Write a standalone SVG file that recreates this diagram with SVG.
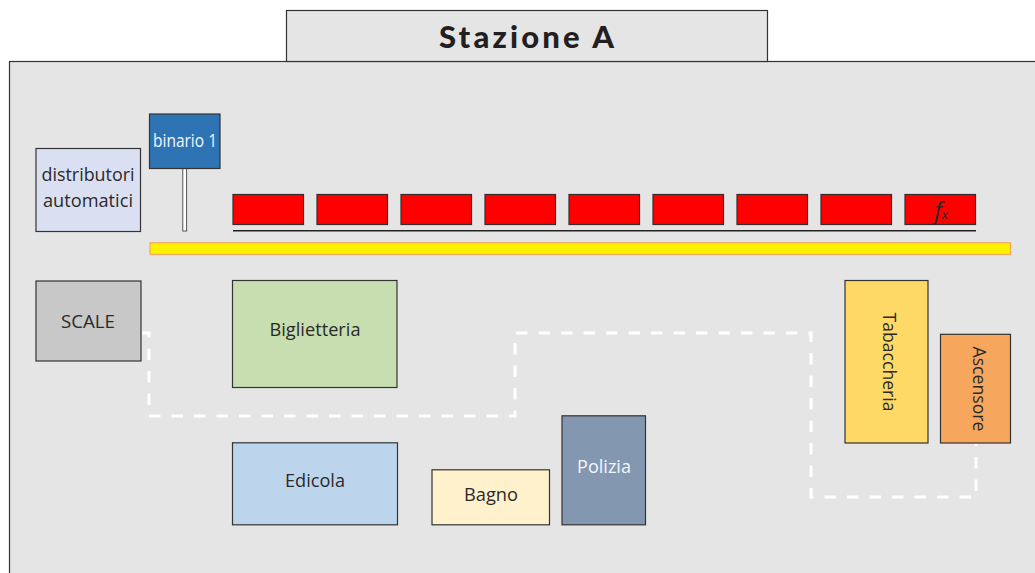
<svg xmlns="http://www.w3.org/2000/svg" width="1035" height="573" viewBox="0 0 1035 573">
<style>
text{font-family:"Open Sans","Noto Sans","Liberation Sans",sans-serif;font-size:17.5px;fill:#2b2a29;text-anchor:middle}
.b{stroke:#333;stroke-width:1.2}
.r{fill:#ff0000;stroke:#3a2a2a;stroke-width:1.2}
</style>
<rect width="1035" height="573" fill="#fff"/>
<g id="station">
<rect x="9.500" y="61.500" width="1040" height="530" fill="#e5e5e5" class="b"/>
</g>
<g id="header">
<rect x="286.500" y="10.500" width="481" height="51" fill="#e5e5e5" class="b"/>
<text x="526.500" y="47.500" textLength="175" lengthAdjust="spacing" style="font-family:Lato,'Liberation Sans',sans-serif;font-weight:900;font-size:31px;fill:#231f20">Stazione A</text>
</g>
<g id="connectors">
<path d="M142 333H149V416H515V333H811V497H976V443" fill="none" stroke="#fff" stroke-width="3" stroke-dasharray="11.500 11"/>
</g>
<g id="distributori">
<rect x="36" y="148.500" width="104.500" height="83" fill="#dae0f2" class="b"/>
<text x="88" y="181" textLength="93" lengthAdjust="spacingAndGlyphs">distributori</text>
<text x="88" y="206.500" textLength="90" lengthAdjust="spacingAndGlyphs">automatici</text>
</g>
<g id="binario">
<rect x="182.800" y="168" width="3.800" height="63" fill="#fff" stroke="#555" stroke-width="1"/>
<rect x="149.500" y="114" width="70.500" height="54.500" fill="#2e74b5" class="b"/>
<text x="185" y="147" textLength="64" lengthAdjust="spacingAndGlyphs" style="fill:#f2f6fc">binario 1</text>
</g>
<g id="treno">
<rect x="233" y="194.500" width="70.500" height="30" class="r"/>
<rect x="317" y="194.500" width="70.500" height="30" class="r"/>
<rect x="401" y="194.500" width="70.500" height="30" class="r"/>
<rect x="485" y="194.500" width="70.500" height="30" class="r"/>
<rect x="569" y="194.500" width="70.500" height="30" class="r"/>
<rect x="653" y="194.500" width="70.500" height="30" class="r"/>
<rect x="737" y="194.500" width="70.500" height="30" class="r"/>
<rect x="821" y="194.500" width="70.500" height="30" class="r"/>
<rect x="905" y="194.500" width="70.500" height="30" class="r"/>
<text x="941" y="219" style="font-style:italic;font-size:24px">f<tspan font-size="13">x</tspan></text>
<rect x="233" y="230" width="743" height="1.500" fill="#222"/>
</g>
<g id="banchina">
<rect x="150" y="242.800" width="860.500" height="11.500" fill="#fff200" stroke="#f5a55c" stroke-width="1.200"/>
</g>
<g id="scale">
<rect x="36" y="281" width="105" height="80" fill="#c8c8c8" class="b"/>
<text x="88" y="327.500" textLength="54" lengthAdjust="spacingAndGlyphs">SCALE</text>
</g>
<g id="biglietteria">
<rect x="232.500" y="280.500" width="164.500" height="107" fill="#c7dfb0" class="b"/>
<text x="315" y="336" textLength="91" lengthAdjust="spacingAndGlyphs">Biglietteria</text>
</g>
<g id="edicola">
<rect x="232.500" y="442.800" width="165" height="82" fill="#bcd5ed" class="b"/>
<text x="315" y="487" textLength="60" lengthAdjust="spacingAndGlyphs">Edicola</text>
</g>
<g id="bagno">
<rect x="432" y="469.800" width="117.500" height="55" fill="#fff1cc" class="b"/>
<text x="491" y="501" textLength="54" lengthAdjust="spacingAndGlyphs">Bagno</text>
</g>
<g id="polizia">
<rect x="562" y="415.800" width="83.500" height="109" fill="#8497b0" class="b"/>
<text x="604" y="473" textLength="54" lengthAdjust="spacingAndGlyphs" style="fill:#f2f6fc">Polizia</text>
</g>
<g id="tabaccheria">
<rect x="845" y="280.500" width="83" height="162.500" fill="#ffd966" class="b"/>
<text transform="translate(883 362) rotate(90)" textLength="99" lengthAdjust="spacingAndGlyphs">Tabaccheria</text>
</g>
<g id="ascensore">
<rect x="940.500" y="334.300" width="70" height="108.700" fill="#f7a65e" class="b"/>
<text transform="translate(973 389) rotate(90)" textLength="85" lengthAdjust="spacingAndGlyphs">Ascensore</text>
</g>
</svg>
